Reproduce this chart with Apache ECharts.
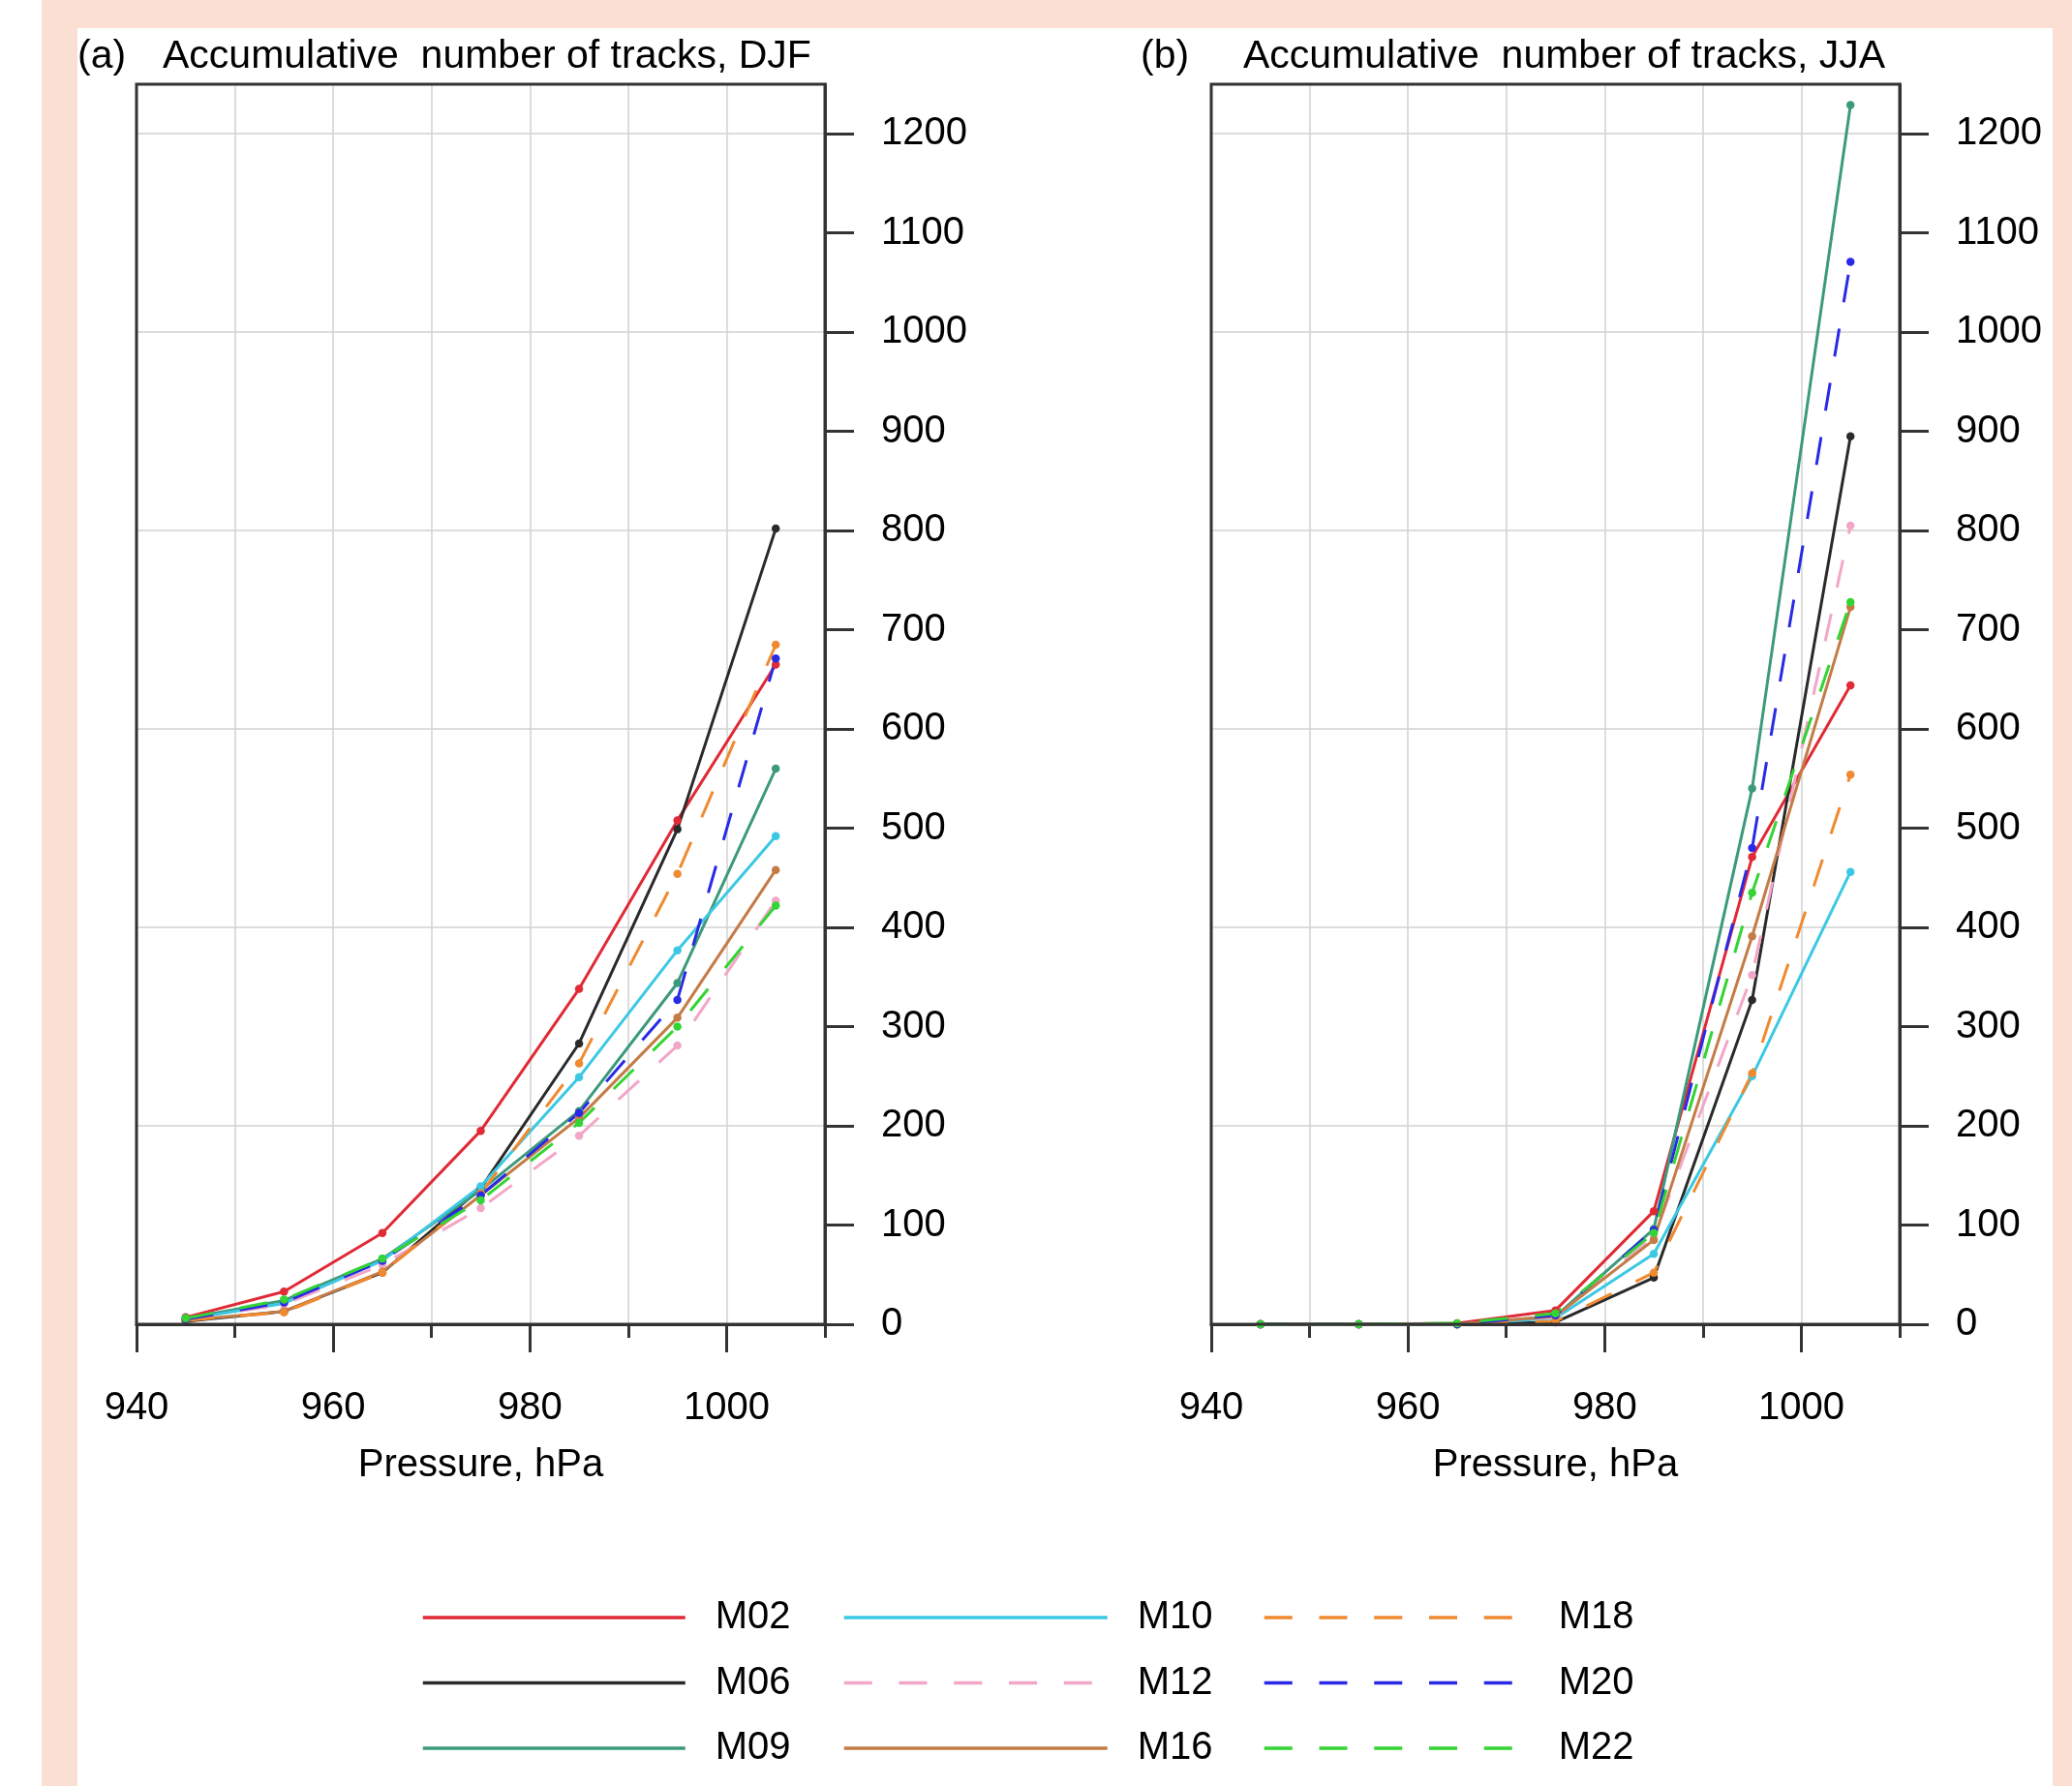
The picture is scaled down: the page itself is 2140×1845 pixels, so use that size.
<!DOCTYPE html>
<html><head><meta charset="utf-8">
<script src="https://cdn.jsdelivr.net/npm/echarts@6/dist/echarts.min.js"></script>
<style>html,body{margin:0;padding:0;background:#fff}#c{width:2140px;height:1845px}</style>
</head><body><div id="c"></div>
<script>
// ---------- data ----------
const pressure = [945, 955, 965, 975, 985, 995, 1005];
const models = ['M02', 'M06', 'M09', 'M10', 'M12', 'M16', 'M18', 'M20', 'M22'];

// DJF (panel a)
const djfM02 = [7, 33, 92, 195, 338, 508, 665];
const djfM06 = [3, 13, 52, 137, 283, 499, 802];
const djfM09 = [6, 24, 66, 135, 215, 344, 560];
const djfM10 = [5, 21, 64, 139, 249, 377, 492];
const djfM12 = [5, 20, 60, 117, 190, 281, 427];
const djfM16 = [4, 13, 53, 130, 208, 309, 458];
const djfM18 = [4, 12, 52, 132, 263, 454, 685];
const djfM20 = [5, 22, 64, 130, 213, 327, 671];
const djfM22 = [6, 25, 66, 125, 203, 300, 422];

// JJA (panel b)
const jjaM02 = [0, 0, 1, 14, 114, 471, 644];
const jjaM06 = [0, 0, 0, 2, 47, 327, 895];
const jjaM09 = [0, 0, 0, 8, 96, 540, 1229];
const jjaM10 = [0, 0, 0, 6, 71, 250, 456];
const jjaM12 = [0, 0, 0, 7, 88, 352, 805];
const jjaM16 = [0, 0, 0, 8, 85, 391, 723];
const jjaM18 = [0, 0, 0, 3, 52, 253, 554];
const jjaM20 = [0, 0, 0, 9, 95, 480, 1071];
const jjaM22 = [0, 0, 1, 11, 92, 435, 728];

const xTickLabels = [940, 960, 980, 1000];
const xMinorTicks = [950, 970, 990, 1010];
const yTickLabels = [0, 100, 200, 300, 400, 500, 600, 700, 800, 900, 1000, 1100, 1200];
const panelLetters = ['(a)', '(b)'];
const panelTitles = ['Accumulative  number of tracks, DJF', 'Accumulative  number of tracks, JJA'];
const xAxisTitle = 'Pressure, hPa';

const djfData = [djfM02, djfM06, djfM09, djfM10, djfM12, djfM16, djfM18, djfM20, djfM22];
const jjaData = [jjaM02, jjaM06, jjaM09, jjaM10, jjaM12, jjaM16, jjaM18, jjaM20, jjaM22];

// ---------- styles ----------
const colors = ['#e02a36', '#2a2a2a', '#3c9a7c', '#3cc8e4', '#f2a6c8', '#c47c46', '#f08a30', '#2a2ae6', '#33d433'];
const dashed = [false, false, false, false, true, false, true, true, true];
const DASH = [29, 27.75];
const FONT = 'Liberation Sans, Arial, sans-serif';
const AX = '#333';
const plain = v => String(v);

const gridLeft = [141, 1251];
const gridTop = 87, gridW = 711, gridH = 1281;

const grids = [], xAxes = [], yAxes = [], series = [], titles = [];

[0, 1].forEach(g => {
  grids.push({left: gridLeft[g], top: gridTop, width: gridW, height: gridH, show: true, z: 5,
    borderColor: AX, borderWidth: 3, backgroundColor: 'transparent', outerBoundsMode: 'none', containLabel: false});
  // main x axis: long ticks + labels
  xAxes.push({type: 'value', gridIndex: g, position: 'bottom', min: 940, max: 1010, interval: 10,
    axisLine: {show: true, onZero: false, lineStyle: {color: AX, width: 3}},
    axisTick: {show: true, customValues: xTickLabels, length: 29, inside: false, lineStyle: {color: AX, width: 3}},
    axisLabel: {show: true, customValues: xTickLabels, formatter: plain, margin: 67, fontSize: 40, color: '#000', fontFamily: FONT},
    splitLine: {show: false},
    name: xAxisTitle, nameLocation: 'middle', nameGap: 126,
    nameTextStyle: {fontSize: 40, color: '#000', fontFamily: FONT}});
  // minor ticks
  xAxes.push({type: 'value', gridIndex: g, position: 'bottom', min: 940, max: 1010, interval: 10,
    axisLine: {show: false, onZero: false},
    axisTick: {show: true, customValues: xMinorTicks, length: 14, inside: false, lineStyle: {color: AX, width: 3}},
    axisLabel: {show: false}, splitLine: {show: false}});
  // vertical grid lines
  xAxes.push({type: 'value', gridIndex: g, position: 'bottom', min: 940, max: 1010, interval: 10,
    axisLine: {show: false, onZero: false}, axisTick: {show: false}, axisLabel: {show: false},
    splitLine: {show: true, showMinLine: false, showMaxLine: false, lineStyle: {color: '#d2d2d2', width: 1.5}}});
  // main y axis on the right
  yAxes.push({type: 'value', gridIndex: g, position: 'right', min: 0, max: 1250, interval: 100,
    axisLine: {show: true, onZero: false, lineStyle: {color: AX, width: 3}},
    axisTick: {show: true, customValues: yTickLabels, length: 30, inside: false, lineStyle: {color: AX, width: 3}},
    axisLabel: {show: true, customValues: yTickLabels, formatter: plain, margin: 58, fontSize: 40, color: '#000', align: 'left', fontFamily: FONT},
    splitLine: {show: false}});
  // horizontal grid lines
  yAxes.push({type: 'value', gridIndex: g, position: 'left', min: 0, max: 1250, interval: 200,
    axisLine: {show: false}, axisTick: {show: false}, axisLabel: {show: false},
    splitLine: {show: true, showMinLine: false, showMaxLine: false, lineStyle: {color: '#d2d2d2', width: 1.5}}});

  const data = g === 0 ? djfData : jjaData;
  models.forEach((m, i) => {
    series.push({
      name: m, type: 'line', xAxisIndex: g * 3, yAxisIndex: g * 2,
      data: pressure.map((p, k) => [p, data[i][k]]),
      symbol: 'circle', symbolSize: 8.5, showSymbol: true,
      lineStyle: {color: colors[i], width: 3, type: dashed[i] ? DASH : 'solid'},
      itemStyle: {color: colors[i]},
      emphasis: {disabled: true}, animation: false, z: 3
    });
  });
});

const titleLeft = [[80, 168], [1178, 1284]];
[0, 1].forEach(g => {
  titles.push({text: panelLetters[g], left: titleLeft[g][0], top: 38, padding: 0,
    textStyle: {fontSize: 41, fontWeight: 'normal', color: '#000', fontFamily: FONT}});
  titles.push({text: panelTitles[g], left: titleLeft[g][1], top: 38, padding: 0,
    textStyle: {fontSize: 41, fontWeight: 'normal', color: '#000', fontFamily: FONT}});
});

const legendCols = [models.slice(0, 3), models.slice(3, 6), models.slice(6, 9)];
const legendLeft = [435, 870, 1304];
const legendW = [271, 272, 256];
const legendPad = [26, 26, 43];
const legends = legendCols.map((names, c) => ({
  data: names, orient: 'vertical', left: legendLeft[c], top: 1651,
  itemWidth: legendW[c], itemHeight: 4, itemGap: 27.5, padding: 0, selectedMode: false,
  itemStyle: {opacity: 0},
  lineStyle: {width: 3.5},
  textStyle: {fontSize: 40, lineHeight: 40, color: '#000', fontFamily: FONT, padding: [0, 0, 0, legendPad[c]]}
}));

const chart = echarts.init(document.getElementById('c'), null, {renderer: 'canvas'});
chart.setOption({
  animation: false,
  backgroundColor: '#ffffff',
  graphic: [
    {type: 'rect', shape: {x: 43, y: 0, width: 2097, height: 1845}, style: {fill: '#fbdfd2'}, z: -10, silent: true},
    {type: 'rect', shape: {x: 80, y: 29, width: 2040, height: 1816}, style: {fill: '#ffffff'}, z: -9, silent: true}
  ],
  title: titles,
  legend: legends,
  grid: grids,
  xAxis: xAxes,
  yAxis: yAxes,
  series: series
});
</script>
</body></html>
